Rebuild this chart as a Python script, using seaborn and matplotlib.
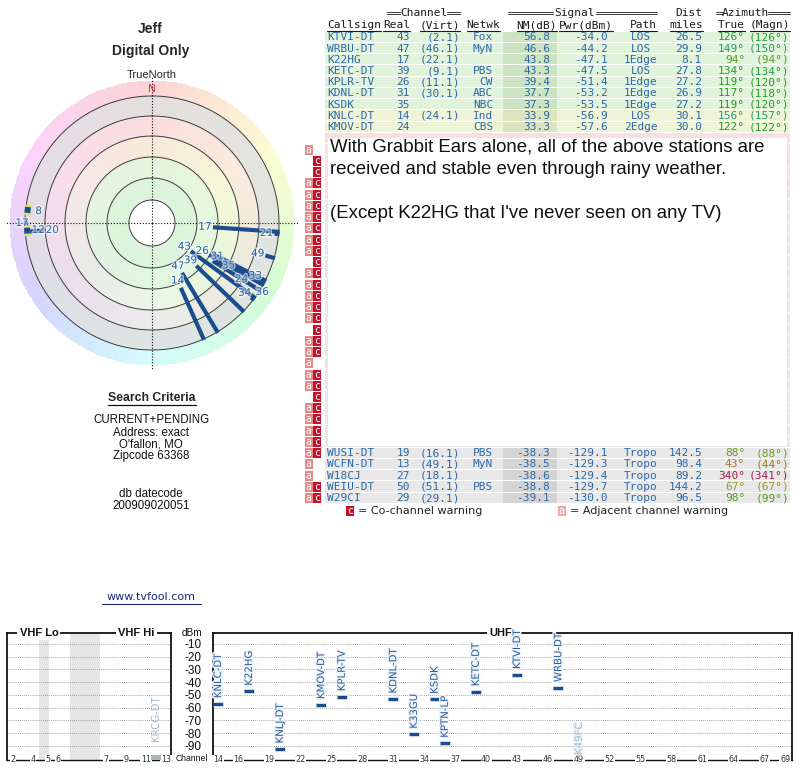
"""
TV Fool style signal report: compass plot, station table and spectrum chart.
"""

import colorsys

import numpy as np
import pandas as pd
import matplotlib

matplotlib.use("Agg")
import matplotlib.pyplot as plt
import matplotlib.patheffects as pe
from matplotlib.colors import to_rgb
from matplotlib.patches import Rectangle
import seaborn as sns

sns.set_theme(style="white")
plt.rcParams["font.family"] = ["DejaVu Sans"]

W, H = 800, 768
MONO = "DejaVu Sans Mono"
ARIAL = "Liberation Sans"
BLUE = "#2d68a6"
NAVY = "#1d4c8c"

# ---------------- table data (visible rows) ----------------
callsigns = ["KTVI-DT", "WRBU-DT", "K22HG", "KETC-DT", "KPLR-TV", "KDNL-DT", "KSDK",
             "KNLC-DT", "KMOV-DT",
             "WUSI-DT", "WCFN-DT", "W18CJ", "WEIU-DT", "W29CI"]
real_ch = [43, 47, 17, 39, 26, 31, 35, 14, 24, 19, 13, 27, 50, 29]
virt_ch = ["(2.1)", "(46.1)", "(22.1)", "(9.1)", "(11.1)", "(30.1)", "", "(24.1)", "",
           "(16.1)", "(49.1)", "(18.1)", "(51.1)", "(29.1)"]
networks = ["Fox", "MyN", "", "PBS", "CW", "ABC", "NBC", "Ind", "CBS",
            "PBS", "MyN", "", "PBS", ""]
nm_db = [56.8, 46.6, 43.8, 43.3, 39.4, 37.7, 37.3, 33.9, 33.3,
         -38.3, -38.5, -38.6, -38.8, -39.1]
pwr_dbm = [-34.0, -44.2, -47.1, -47.5, -51.4, -53.2, -53.5, -56.9, -57.6,
           -129.1, -129.3, -129.4, -129.7, -130.0]
paths = ["LOS", "LOS", "1Edge", "LOS", "1Edge", "1Edge", "1Edge", "LOS", "2Edge",
         "Tropo", "Tropo", "Tropo", "Tropo", "Tropo"]
dist_mi = [26.5, 29.9, 8.1, 27.8, 27.2, 26.9, 27.2, 30.1, 30.0,
           142.5, 98.4, 89.2, 144.2, 96.5]
az_true = [126, 149, 94, 134, 119, 117, 119, 156, 122, 88, 43, 340, 67, 98]
az_magn = [126, 150, 94, 134, 120, 118, 120, 157, 122, 88, 44, 341, 67, 99]
row_index = [0, 1, 2, 3, 4, 5, 6, 7, 8, 37, 38, 39, 40, 41]
warn_visible = ["", "", "", "", "", "", "", "", "", "ac", "a", "a", "ac", "ac"]

# rows hidden behind the comment box: only warning icons show
hidden_rows = list(range(9, 37))
warn_hidden = ["", "a", "c", "c", "ac", "ac", "ac", "ac", "ac", "ac", "ac", "c", "ac", "ac",
               "ac", "ac", "ac", "c", "ac", "ac", "a", "ac", "ac", "c", "ac", "ac", "ac", "ac"]

# ---------------- compass (polar) data ----------------
polar_ch = [43, 47, 17, 39, 26, 31, 35, 14, 24, 49, 33, 36, 34, 21, 20, 12, 8, 17]
polar_az = [126, 149, 94, 134, 119, 117, 119, 156, 122, 106, 117, 122, 127, 95,
            266, 266.5, 276, 270]
polar_dbm = [-34.0, -44.2, -47.1, -47.5, -51.4, -53.2, -53.5, -56.9, -57.6,
             -104, -110, -113, -112, -109, -94, -108, -108, -118]
polar_glow = [False] * 15 + [True, True, False]

# ---------------- spectrum data ----------------
uhf_calls = ["KNLC-DT", "K22HG", "KNLJ-DT", "KMOV-DT", "KPLR-TV", "KDNL-DT", "K33GU",
             "KSDK", "KPTN-LP", "KETC-DT", "KTVI-DT", "WRBU-DT", "K49FC"]
uhf_ch = [14, 17, 20, 24, 26, 31, 33, 35, 36, 39, 43, 47, 49]
uhf_dbm = [-56.9, -47.1, -92.4, -57.6, -51.4, -53.2, -80.8, -53.5, -87.9, -47.5,
           -34.0, -44.2, -99.5]
uhf_weak = [False] * 12 + [True]
vhf_calls = ["KRCG-DT"]
vhf_ch = [12]
vhf_dbm = [-99.0]
uhf_ticks = [14, 16, 19, 22, 25, 28, 31, 34, 37, 40, 43, 46, 49, 52, 55, 58, 61, 64, 67, 69]
vhf_ticks = [2, 4, 5, 6, 7, 9, 11, 13]
dbm_ticks = [-10, -20, -30, -40, -50, -60, -70, -80, -90]


def vhf_pos(ch):
    # VHF axis squeezes the 4/5 gap and the FM band
    if ch <= 4:
        return ch - 2.0
    if ch <= 6:
        return ch - 1.5
    return ch + 2.3


def hue_color(az, s, v):
    return colorsys.hsv_to_rgb((az % 360) / 360.0, s, v)


def px_axes(fig, x0, y0, w, h, **kw):
    return fig.add_axes([x0 / W, 1 - (y0 + h) / H, w / W, h / H], **kw)


fig = plt.figure(figsize=(W / 100, H / 100), dpi=100)
canvas = fig.add_axes([0, 0, 1, 1], zorder=0)
canvas.set_xlim(0, W)
canvas.set_ylim(H, 0)
canvas.axis("off")

# ---------------- left column text ----------------
canvas.text(150, 29, "Jeff", family=ARIAL, weight="bold", fontsize=10, ha="center", va="center")
canvas.text(151, 51, "Digital Only", family=ARIAL, weight="bold", fontsize=10, ha="center", va="center")
canvas.text(152, 75, "TrueNorth", family=ARIAL, fontsize=8, ha="center", va="center")
canvas.text(152, 398, "Search Criteria", family=ARIAL, weight="bold", fontsize=8.8, ha="center", va="center")
canvas.plot([108, 196], [405, 405], color="#111", lw=0.9)
for y, s in zip([420, 432.5, 444.5, 456.5, 494, 506],
                ["CURRENT+PENDING", "Address: exact", "O'fallon, MO", "Zipcode 63368",
                 "db datecode", "200909020051"]):
    canvas.text(151, y, s, family=ARIAL, fontsize=8.3, ha="center", va="center", color="#111")
canvas.text(151, 597, "www.tvfool.com", fontsize=8, ha="center", va="center", color="#1a2a80")
canvas.plot([102, 201], [603.5, 603.5], color="#1a2a80", lw=0.8)

# ---------------- compass ----------------
cx, cy, RMAX = 152, 223, 148
pax = px_axes(fig, cx - RMAX, cy - RMAX, 2 * RMAX, 2 * RMAX, projection="polar", zorder=2)
pax.set_theta_zero_location("N")
pax.set_theta_direction(-1)
pax.set_ylim(0, RMAX)
pax.set_axis_off()

theta_edges = np.radians(np.arange(0, 361, 2))
band_edges = [0, 23, 45, 66, 87, 107, 127, 142]
band_base = ["#ffffff", "#dcf4dc", "#e4f6de", "#f4f4dc", "#f8e2e2", "#e0e0e0", None]
band_tint = [0.0, 0.0, 0.1, 0.35, 0.35, 0.15, 1.0]
colors = np.zeros((len(band_base), len(theta_edges) - 1, 3))
for j, (base, tint) in enumerate(zip(band_base, band_tint)):
    for k in range(len(theta_edges) - 1):
        az = np.degrees(theta_edges[k]) + 1
        rim = np.array(hue_color(az, 0.16, 0.99))
        b = rim if base is None else np.array(to_rgb(base))
        colors[j, k] = (1 - tint) * b + tint * rim
pax.pcolormesh(theta_edges, band_edges, colors, shading="flat", zorder=1)

full = np.linspace(0, 2 * np.pi, 361)
for r in [23, 45, 66, 87, 107, 127]:
    pax.plot(full, np.full_like(full, r), color="#3a3a3a", lw=0.7, zorder=2)
for a in [0, 90, 180, 270]:
    pax.plot([np.radians(a)] * 2, [0, 146], color="#111", lw=0.8,
             ls=(0, (1, 1.6)), zorder=2)
pax.text(0, 134, "N", color="#c0304a", fontsize=7.5, ha="center", va="center", zorder=5)

polar_df = pd.DataFrame({"ch": polar_ch, "az": polar_az, "dbm": polar_dbm, "glow": polar_glow})
polar_df["r0"] = np.clip(14 - polar_df["dbm"], 0, 124)
placed = []
for _, row in polar_df.sort_values("r0").iterrows():
    th = np.radians(row["az"])
    lw = 4.2 if row["glow"] else 3.0
    effects = [pe.Stroke(linewidth=lw + 3.5, foreground="#dede6a"), pe.Normal()] if row["glow"] else None
    pax.plot([th, th], [row["r0"], 128], color=NAVY, lw=lw, solid_capstyle="butt",
             zorder=3, path_effects=effects)
    # push labels outwards until they stop overlapping
    lr = row["r0"] - 8
    while any(np.hypot(lr * np.sin(th) - px, lr * np.cos(th) - py) < 12 for px, py in placed):
        lr += 14
    placed.append((lr * np.sin(th), lr * np.cos(th)))
    pax.text(th, lr, str(int(row["ch"])), color=BLUE, fontsize=7.5, ha="center", va="center",
             zorder=4, path_effects=[pe.withStroke(linewidth=2, foreground="white", alpha=0.6)])

# ---------------- table ----------------
ROW0, ROWH = 37.3, 11.24


def row_y(i):
    return ROW0 + i * ROWH


def row_colors(nm):
    if nm >= 35:
        return "#e2f3dc", "#cce4c2"
    if nm >= 30:
        return "#eff4d8", "#dde4c0"
    if nm >= 0:
        return "#f8e0e0", "#eecaca"
    return "#e8e8e8", "#d4d4d4"


def draw_icons(y, flags):
    if "a" in flags:
        canvas.add_patch(Rectangle((305, y - 5), 7.5, 10, fc="#e68a8a", ec="none", zorder=3))
        canvas.text(308.8, y, "a", color="white", fontsize=7, family=MONO, ha="center", va="center", zorder=4)
    if "c" in flags:
        canvas.add_patch(Rectangle((313, y - 5), 7.5, 10, fc="#c4142c", ec="none", zorder=3))
        canvas.text(316.8, y, "c", color="white", fontsize=7, family=MONO, ha="center", va="center", zorder=4)


# hidden rows (mostly covered by the comment box)
for n, i in enumerate(hidden_rows):
    y = row_y(i)
    bg = "#f8e0e0" if i < 15 else "#e8e8e8"
    canvas.add_patch(Rectangle((325, y - ROWH / 2), 465, ROWH - 1, fc=bg, ec="none", zorder=1))
    draw_icons(y, warn_hidden[n])

tkw = dict(family=MONO, fontsize=8, va="center", color=BLUE, zorder=3)
for k, i in enumerate(row_index):
    y = row_y(i)
    bg, shade = row_colors(nm_db[k])
    canvas.add_patch(Rectangle((325, y - ROWH / 2), 465, ROWH - 1, fc=bg, ec="none", zorder=1))
    canvas.add_patch(Rectangle((503, y - ROWH / 2), 54, ROWH - 1, fc=shade, ec="none", zorder=1))
    draw_icons(y, warn_visible[k])
    canvas.text(327, y, callsigns[k], ha="left", **tkw)
    canvas.text(410, y, str(real_ch[k]), ha="right", **tkw)
    canvas.text(460, y, virt_ch[k], ha="right", **tkw)
    canvas.text(493, y, networks[k], ha="right", **tkw)
    canvas.text(550, y, f"{nm_db[k]:.1f}", ha="right", **tkw)
    canvas.text(608, y, f"{pwr_dbm[k]:.1f}", ha="right", **tkw)
    canvas.text(641, y, paths[k], ha="center", **tkw)
    canvas.text(702, y, f"{dist_mi[k]:.1f}", ha="right", **tkw)
    azc = hue_color(az_true[k], 0.78, 0.62)
    canvas.text(745, y, f"{az_true[k]}°", ha="right", **{**tkw, "color": azc})
    canvas.text(789, y, f"({az_magn[k]}°)", ha="right", **{**tkw, "color": azc})

# headers
hkw = dict(family=MONO, fontsize=8, va="center", color="#1a1a1a")
CW = 6.69
for txt, x, ha in [("Callsign", 327, "left"), ("Real", 410, "right"), ("(Virt)", 460, "right"),
                   ("Netwk", 500, "right"), ("NM(dB)", 557, "right"), ("Pwr(dBm)", 613, "right"),
                   ("Path", 657, "right"), ("miles", 703, "right"), ("True", 745, "right"),
                   ("(Magn)", 790, "right")]:
    canvas.text(x, 25, txt, ha=ha, **hkw)
    x0 = x if ha == "left" else x - len(txt) * CW
    canvas.plot([x0, x0 + len(txt) * CW], [31, 31], color="#1a1a1a", lw=0.8)
canvas.text(702, 13, "Dist", ha="right", **hkw)
for txt, x in [("Channel", 423.5), ("Signal", 574.5), ("Azimuth", 745)]:
    canvas.text(x, 13, txt, ha="center", **hkw)
for x0, x1 in [(387, 400), (447, 460), (508, 553), (596, 657), (716, 723), (768, 790)]:
    for yy in (11.8, 14.2):
        canvas.plot([x0, x1], [yy, yy], color="#1a1a1a", lw=0.6)

# comment box over the table
canvas.add_patch(Rectangle((327, 137), 460, 309, fc="white", ec="#e4e4e4", lw=0.5, zorder=6))
for y, s in [(147.5, "With Grabbit Ears alone, all of the above stations are"),
             (170, "received and stable even through rainy weather."),
             (214, "(Except K22HG that I've never seen on any TV)")]:
    canvas.text(330, y, s, family=ARIAL, fontsize=13.4, ha="left", va="center", color="#111", zorder=7)

# legend
canvas.add_patch(Rectangle((346, 506), 7.5, 10, fc="#c4142c", ec="none"))
canvas.text(349.8, 511, "c", color="white", fontsize=7, family=MONO, ha="center", va="center")
canvas.text(358, 511, "= Co-channel warning", fontsize=8, ha="left", va="center", color="#222")
canvas.add_patch(Rectangle((558, 506), 7.5, 10, fc="#f0a8a8", ec="none"))
canvas.text(561.8, 511, "a", color="white", fontsize=7, family=MONO, ha="center", va="center")
canvas.text(570, 511, "= Adjacent channel warning", fontsize=8, ha="left", va="center", color="#222")

# ---------------- spectrum chart ----------------
YLIM = (-101.0, -1.4)
bar_marker = [(-1, -0.42), (1, -0.42), (1, 0.42), (-1, 0.42)]
ax_v = px_axes(fig, 7, 633, 164, 127, zorder=2)
ax_u = px_axes(fig, 213, 633, 579, 127, zorder=2)
ax_v.set_xlim(-0.6, 15.8)
ax_u.set_xlim(13.515, 69.67)

for ax in (ax_v, ax_u):
    ax.set_ylim(*YLIM)
    ax.set_facecolor("none")
    ax.set_xticks([])
    ax.set_yticks(dbm_ticks)
    ax.yaxis.grid(True, linestyle=(0, (1, 1.5)), color="#8a8a8a", lw=0.6)
    ax.set_axisbelow(True)
    for side, sp in ax.spines.items():
        sp.set_visible(True)
        sp.set_color("#111")
        sp.set_linewidth(1.3 if side != "bottom" else 1.0)

ax_v.tick_params(axis="y", length=0, labelleft=False)
ax_u.set_yticklabels([str(v) for v in dbm_ticks], family=ARIAL, fontsize=8.5, color="#111")
ax_u.tick_params(axis="y", length=0, pad=8)
ax_u.text(-0.019, 1.0, "dBm", transform=ax_u.transAxes, family=ARIAL, fontsize=7.2,
          ha="right", va="center", color="#111")
ax_u.text(-0.008, 0.015, "Channel", transform=ax_u.transAxes, family=ARIAL, fontsize=6.2,
          ha="right", va="center", color="#111")

ax_v.axvspan(2.6, 3.6, color="#e6e6e6", zorder=0, lw=0)
ax_v.axvspan(5.7, 8.7, color="#e6e6e6", zorder=0, lw=0)

title_kw = dict(family=ARIAL, weight="bold", fontsize=8, ha="center", va="center", color="#111",
                bbox=dict(fc="white", ec="none", pad=1.5), zorder=5)
ax_v.text(0.195, 1.0, "VHF Lo", transform=ax_v.transAxes, **title_kw)
ax_v.text(0.79, 1.0, "VHF Hi", transform=ax_v.transAxes, **title_kw)
ax_u.text(0.497, 1.0, "UHF", transform=ax_u.transAxes, **title_kw)

tick_kw = dict(fontsize=5.8, ha="center", va="center", color="#333", clip_on=False,
               bbox=dict(fc="white", ec="none", pad=0.4), zorder=5)
for ch in uhf_ticks:
    ax_u.text(ch, YLIM[0], str(ch), **tick_kw)
for ch in vhf_ticks:
    ax_v.text(vhf_pos(ch), YLIM[0], str(ch), **tick_kw)

uhf_df = pd.DataFrame({"call": uhf_calls, "ch": uhf_ch, "dbm": uhf_dbm, "weak": uhf_weak})
vhf_df = pd.DataFrame({"call": vhf_calls, "ch": [vhf_pos(c) for c in vhf_ch], "dbm": vhf_dbm})

strong = uhf_df[~uhf_df["weak"]]
sns.scatterplot(data=strong, x="ch", y="dbm", marker=bar_marker, s=42, color=NAVY,
                edgecolor="#d6e4f2", linewidth=0.6, ax=ax_u, legend=False, zorder=4)
sns.scatterplot(data=vhf_df, x="ch", y="dbm", marker=bar_marker, s=60, color="#a9bca9",
                edgecolor="none", ax=ax_v, legend=False, zorder=6, clip_on=False)
for ax in (ax_u, ax_v):
    ax.set_xlabel("")
    ax.set_ylabel("")

halo = [pe.withStroke(linewidth=2.2, foreground="#eef3f8")]
for _, row in uhf_df.iterrows():
    col = "#9dbcd6" if row["weak"] else "#2a5f9c"
    off = 0 if row["weak"] else 4
    ax_u.annotate(row["call"], (row["ch"], max(row["dbm"], -97)), xytext=(0, off),
                  textcoords="offset points", rotation=90, ha="center", va="bottom",
                  fontsize=7.3, color=col, path_effects=halo, zorder=5)
for _, row in vhf_df.iterrows():
    ax_v.annotate(row["call"], (row["ch"], -86), rotation=90, ha="center", va="bottom",
                  fontsize=7.3, color="#9dbcd6", zorder=5)

fig.savefig("out.png", dpi=100)
